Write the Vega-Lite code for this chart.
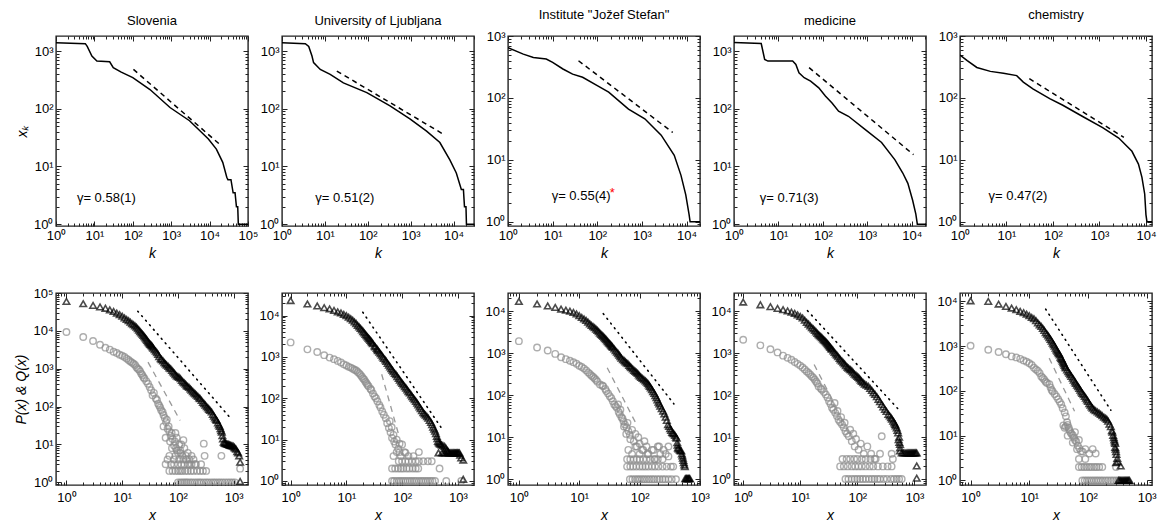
{
"$schema": "https://vega.github.io/schema/vega-lite/v6.json",
"padding": {"left": 14, "top": 8, "right": 2, "bottom": 2},
"background": "white",
"columns": 5,
"spacing": {"row": 67, "column": 34},
"bounds": "flush",
"config": {
  "font": "Liberation Sans",
  "view": {"stroke": "#222", "strokeWidth": 1.4},
  "axis": {"domain": false, "grid": false, "tickColor": "#222", "tickWidth": 1, "labelFont": "Liberation Sans", "labelFontSize": 13, "labelColor": "black", "labelFlush": false, "labelOverlap": false, "titleFont": "Liberation Sans", "titleFontSize": 14, "titleFontStyle": "italic", "titleFontWeight": "normal", "titleColor": "black"},
  "title": {"fontSize": 13, "fontWeight": "normal", "font": "Liberation Sans", "offset": 8, "color": "black"}
},
"concat": [
{"title": "Slovenia", "width": 192, "height": 190, "data": {"name": "A1"}, "resolve": {"axis": {"x": "independent", "y": "independent"}},
 "layer": [
  {"transform": [{"filter": "datum.s=='c'"}], "mark": {"type": "line", "color": "black", "strokeWidth": 1.5, "clip": true},
   "encoding": {"x": {"field": "x", "type": "quantitative", "scale": {"type": "log", "domain": [1, 100000], "nice": false}, "axis": {"orient": "bottom", "values": [1,10,100,1000,10000,100000], "tickCount": 100, "tickSize": -5, "labelPadding": 8, "labelExpr": "'10' + ['⁰','¹','²','³','⁴','⁵'][round(log(datum.value)/LN10)]", "title": "k"}},
                "y": {"field": "y", "type": "quantitative", "scale": {"type": "log", "domain": [0.93, 1820], "nice": false}, "axis": {"orient": "left", "values": [1,10,100,1000,10000,100000], "tickCount": 100, "tickSize": -5, "labelPadding": 8, "labelExpr": "'10' + ['⁰','¹','²','³','⁴','⁵'][round(log(datum.value)/LN10)]", "title": "xₖ"}}}},
  {"transform": [{"filter": "datum.s=='f'"}], "mark": {"type": "line", "color": "black", "strokeWidth": 1.5, "strokeDash": [5, 4]},
   "encoding": {"x": {"field": "x", "type": "quantitative", "scale": {"type": "log", "domain": [1, 100000], "nice": false}, "axis": {"orient": "bottom", "values": [0.2,0.3,0.4,0.5,0.6,0.7,0.8,0.9,2,3,4,5,6,7,8,9,20,30,40,50,60,70,80,90,200,300,400,500,600,700,800,900,2000,3000,4000,5000,6000,7000,8000,9000,20000,30000,40000,50000,60000,70000,80000,90000], "tickCount": 100, "tickSize": -3, "labels": false, "title": null}},
                "y": {"field": "y", "type": "quantitative", "scale": {"type": "log", "domain": [0.93, 1820], "nice": false}, "axis": {"orient": "left", "values": [0.2,0.3,0.4,0.5,0.6,0.7,0.8,0.9,2,3,4,5,6,7,8,9,20,30,40,50,60,70,80,90,200,300,400,500,600,700,800,900,2000,3000,4000,5000,6000,7000,8000,9000,20000,30000,40000,50000,60000,70000,80000,90000], "tickCount": 100, "tickSize": -3, "labels": false, "title": null}}}},
  {"transform": [{"filter": "datum.s=='t'"}], "mark": {"type": "text", "align": "left", "baseline": "middle", "fontSize": 13, "color": "black"},
   "encoding": {"x": {"field": "x", "type": "quantitative", "scale": {"type": "log", "domain": [1, 100000], "nice": false}, "axis": {"orient": "top", "values": [1,10,100,1000,10000,100000], "tickCount": 100, "tickSize": -5, "labels": false, "title": null}},
                "y": {"field": "y", "type": "quantitative", "scale": {"type": "log", "domain": [0.93, 1820], "nice": false}, "axis": {"orient": "right", "values": [1,10,100,1000,10000,100000], "tickCount": 100, "tickSize": -5, "labels": false, "title": null}},
                "text": {"field": "t"}}},
  {"transform": [{"filter": "datum.s=='f'"}], "mark": {"type": "line", "opacity": 0},
   "encoding": {"x": {"field": "x", "type": "quantitative", "scale": {"type": "log", "domain": [1, 100000], "nice": false}, "axis": {"orient": "top", "values": [0.2,0.3,0.4,0.5,0.6,0.7,0.8,0.9,2,3,4,5,6,7,8,9,20,30,40,50,60,70,80,90,200,300,400,500,600,700,800,900,2000,3000,4000,5000,6000,7000,8000,9000,20000,30000,40000,50000,60000,70000,80000,90000], "tickCount": 100, "tickSize": -3, "labels": false, "title": null}},
                "y": {"field": "y", "type": "quantitative", "scale": {"type": "log", "domain": [0.93, 1820], "nice": false}, "axis": {"orient": "right", "values": [0.2,0.3,0.4,0.5,0.6,0.7,0.8,0.9,2,3,4,5,6,7,8,9,20,30,40,50,60,70,80,90,200,300,400,500,600,700,800,900,2000,3000,4000,5000,6000,7000,8000,9000,20000,30000,40000,50000,60000,70000,80000,90000], "tickCount": 100, "tickSize": -3, "labels": false, "title": null}}}}
 ]},
{"title": "University of Ljubljana", "width": 192, "height": 190, "data": {"name": "A2"}, "resolve": {"axis": {"x": "independent", "y": "independent"}},
 "layer": [
  {"transform": [{"filter": "datum.s=='c'"}], "mark": {"type": "line", "color": "black", "strokeWidth": 1.5, "clip": true},
   "encoding": {"x": {"field": "x", "type": "quantitative", "scale": {"type": "log", "domain": [1, 30000], "nice": false}, "axis": {"orient": "bottom", "values": [1,10,100,1000,10000,100000], "tickCount": 100, "tickSize": -5, "labelPadding": 8, "labelExpr": "'10' + ['⁰','¹','²','³','⁴','⁵'][round(log(datum.value)/LN10)]", "title": "k"}},
                "y": {"field": "y", "type": "quantitative", "scale": {"type": "log", "domain": [0.93, 1820], "nice": false}, "axis": {"orient": "left", "values": [1,10,100,1000,10000,100000], "tickCount": 100, "tickSize": -5, "labelPadding": 8, "labelExpr": "'10' + ['⁰','¹','²','³','⁴','⁵'][round(log(datum.value)/LN10)]", "title": null}}}},
  {"transform": [{"filter": "datum.s=='f'"}], "mark": {"type": "line", "color": "black", "strokeWidth": 1.5, "strokeDash": [5, 4]},
   "encoding": {"x": {"field": "x", "type": "quantitative", "scale": {"type": "log", "domain": [1, 30000], "nice": false}, "axis": {"orient": "bottom", "values": [0.2,0.3,0.4,0.5,0.6,0.7,0.8,0.9,2,3,4,5,6,7,8,9,20,30,40,50,60,70,80,90,200,300,400,500,600,700,800,900,2000,3000,4000,5000,6000,7000,8000,9000,20000,30000,40000,50000,60000,70000,80000,90000], "tickCount": 100, "tickSize": -3, "labels": false, "title": null}},
                "y": {"field": "y", "type": "quantitative", "scale": {"type": "log", "domain": [0.93, 1820], "nice": false}, "axis": {"orient": "left", "values": [0.2,0.3,0.4,0.5,0.6,0.7,0.8,0.9,2,3,4,5,6,7,8,9,20,30,40,50,60,70,80,90,200,300,400,500,600,700,800,900,2000,3000,4000,5000,6000,7000,8000,9000,20000,30000,40000,50000,60000,70000,80000,90000], "tickCount": 100, "tickSize": -3, "labels": false, "title": null}}}},
  {"transform": [{"filter": "datum.s=='t'"}], "mark": {"type": "text", "align": "left", "baseline": "middle", "fontSize": 13, "color": "black"},
   "encoding": {"x": {"field": "x", "type": "quantitative", "scale": {"type": "log", "domain": [1, 30000], "nice": false}, "axis": {"orient": "top", "values": [1,10,100,1000,10000,100000], "tickCount": 100, "tickSize": -5, "labels": false, "title": null}},
                "y": {"field": "y", "type": "quantitative", "scale": {"type": "log", "domain": [0.93, 1820], "nice": false}, "axis": {"orient": "right", "values": [1,10,100,1000,10000,100000], "tickCount": 100, "tickSize": -5, "labels": false, "title": null}},
                "text": {"field": "t"}}},
  {"transform": [{"filter": "datum.s=='f'"}], "mark": {"type": "line", "opacity": 0},
   "encoding": {"x": {"field": "x", "type": "quantitative", "scale": {"type": "log", "domain": [1, 30000], "nice": false}, "axis": {"orient": "top", "values": [0.2,0.3,0.4,0.5,0.6,0.7,0.8,0.9,2,3,4,5,6,7,8,9,20,30,40,50,60,70,80,90,200,300,400,500,600,700,800,900,2000,3000,4000,5000,6000,7000,8000,9000,20000,30000,40000,50000,60000,70000,80000,90000], "tickCount": 100, "tickSize": -3, "labels": false, "title": null}},
                "y": {"field": "y", "type": "quantitative", "scale": {"type": "log", "domain": [0.93, 1820], "nice": false}, "axis": {"orient": "right", "values": [0.2,0.3,0.4,0.5,0.6,0.7,0.8,0.9,2,3,4,5,6,7,8,9,20,30,40,50,60,70,80,90,200,300,400,500,600,700,800,900,2000,3000,4000,5000,6000,7000,8000,9000,20000,30000,40000,50000,60000,70000,80000,90000], "tickCount": 100, "tickSize": -3, "labels": false, "title": null}}}}
 ]},
{"title": "Institute \"Jožef Stefan\"", "width": 192, "height": 190, "data": {"name": "A3"}, "resolve": {"axis": {"x": "independent", "y": "independent"}},
 "layer": [
  {"transform": [{"filter": "datum.s=='c'"}], "mark": {"type": "line", "color": "black", "strokeWidth": 1.5, "clip": true},
   "encoding": {"x": {"field": "x", "type": "quantitative", "scale": {"type": "log", "domain": [1, 20000], "nice": false}, "axis": {"orient": "bottom", "values": [1,10,100,1000,10000,100000], "tickCount": 100, "tickSize": -5, "labelPadding": 8, "labelExpr": "'10' + ['⁰','¹','²','³','⁴','⁵'][round(log(datum.value)/LN10)]", "title": "k"}},
                "y": {"field": "y", "type": "quantitative", "scale": {"type": "log", "domain": [0.85, 1000], "nice": false}, "axis": {"orient": "left", "values": [1,10,100,1000,10000,100000], "tickCount": 100, "tickSize": -5, "labelPadding": 8, "labelExpr": "'10' + ['⁰','¹','²','³','⁴','⁵'][round(log(datum.value)/LN10)]", "title": null}}}},
  {"transform": [{"filter": "datum.s=='f'"}], "mark": {"type": "line", "color": "black", "strokeWidth": 1.5, "strokeDash": [5, 4]},
   "encoding": {"x": {"field": "x", "type": "quantitative", "scale": {"type": "log", "domain": [1, 20000], "nice": false}, "axis": {"orient": "bottom", "values": [0.2,0.3,0.4,0.5,0.6,0.7,0.8,0.9,2,3,4,5,6,7,8,9,20,30,40,50,60,70,80,90,200,300,400,500,600,700,800,900,2000,3000,4000,5000,6000,7000,8000,9000,20000,30000,40000,50000,60000,70000,80000,90000], "tickCount": 100, "tickSize": -3, "labels": false, "title": null}},
                "y": {"field": "y", "type": "quantitative", "scale": {"type": "log", "domain": [0.85, 1000], "nice": false}, "axis": {"orient": "left", "values": [0.2,0.3,0.4,0.5,0.6,0.7,0.8,0.9,2,3,4,5,6,7,8,9,20,30,40,50,60,70,80,90,200,300,400,500,600,700,800,900,2000,3000,4000,5000,6000,7000,8000,9000,20000,30000,40000,50000,60000,70000,80000,90000], "tickCount": 100, "tickSize": -3, "labels": false, "title": null}}}},
  {"transform": [{"filter": "datum.s=='t'"}], "mark": {"type": "text", "align": "left", "baseline": "middle", "fontSize": 13, "color": "black"},
   "encoding": {"x": {"field": "x", "type": "quantitative", "scale": {"type": "log", "domain": [1, 20000], "nice": false}, "axis": {"orient": "top", "values": [1,10,100,1000,10000,100000], "tickCount": 100, "tickSize": -5, "labels": false, "title": null}},
                "y": {"field": "y", "type": "quantitative", "scale": {"type": "log", "domain": [0.85, 1000], "nice": false}, "axis": {"orient": "right", "values": [1,10,100,1000,10000,100000], "tickCount": 100, "tickSize": -5, "labels": false, "title": null}},
                "text": {"field": "t"}}},
  {"transform": [{"filter": "datum.s=='f'"}], "mark": {"type": "line", "opacity": 0},
   "encoding": {"x": {"field": "x", "type": "quantitative", "scale": {"type": "log", "domain": [1, 20000], "nice": false}, "axis": {"orient": "top", "values": [0.2,0.3,0.4,0.5,0.6,0.7,0.8,0.9,2,3,4,5,6,7,8,9,20,30,40,50,60,70,80,90,200,300,400,500,600,700,800,900,2000,3000,4000,5000,6000,7000,8000,9000,20000,30000,40000,50000,60000,70000,80000,90000], "tickCount": 100, "tickSize": -3, "labels": false, "title": null}},
                "y": {"field": "y", "type": "quantitative", "scale": {"type": "log", "domain": [0.85, 1000], "nice": false}, "axis": {"orient": "right", "values": [0.2,0.3,0.4,0.5,0.6,0.7,0.8,0.9,2,3,4,5,6,7,8,9,20,30,40,50,60,70,80,90,200,300,400,500,600,700,800,900,2000,3000,4000,5000,6000,7000,8000,9000,20000,30000,40000,50000,60000,70000,80000,90000], "tickCount": 100, "tickSize": -3, "labels": false, "title": null}}}},
  {"transform": [{"filter": "datum.s=='r'"}], "mark": {"type": "text", "align": "left", "baseline": "middle", "fontSize": 13, "color": "red", "dy": -3},
   "encoding": {"x": {"field": "x", "type": "quantitative", "scale": {"type": "log", "domain": [1, 20000], "nice": false}, "axis": null},
                "y": {"field": "y", "type": "quantitative", "scale": {"type": "log", "domain": [0.85, 1000], "nice": false}, "axis": null},
                "text": {"field": "t"}}}
 ]},
{"title": "medicine", "width": 192, "height": 190, "data": {"name": "A4"}, "resolve": {"axis": {"x": "independent", "y": "independent"}},
 "layer": [
  {"transform": [{"filter": "datum.s=='c'"}], "mark": {"type": "line", "color": "black", "strokeWidth": 1.5, "clip": true},
   "encoding": {"x": {"field": "x", "type": "quantitative", "scale": {"type": "log", "domain": [1, 21000], "nice": false}, "axis": {"orient": "bottom", "values": [1,10,100,1000,10000,100000], "tickCount": 100, "tickSize": -5, "labelPadding": 8, "labelExpr": "'10' + ['⁰','¹','²','³','⁴','⁵'][round(log(datum.value)/LN10)]", "title": "k"}},
                "y": {"field": "y", "type": "quantitative", "scale": {"type": "log", "domain": [0.93, 1820], "nice": false}, "axis": {"orient": "left", "values": [1,10,100,1000,10000,100000], "tickCount": 100, "tickSize": -5, "labelPadding": 8, "labelExpr": "'10' + ['⁰','¹','²','³','⁴','⁵'][round(log(datum.value)/LN10)]", "title": null}}}},
  {"transform": [{"filter": "datum.s=='f'"}], "mark": {"type": "line", "color": "black", "strokeWidth": 1.5, "strokeDash": [5, 4]},
   "encoding": {"x": {"field": "x", "type": "quantitative", "scale": {"type": "log", "domain": [1, 21000], "nice": false}, "axis": {"orient": "bottom", "values": [0.2,0.3,0.4,0.5,0.6,0.7,0.8,0.9,2,3,4,5,6,7,8,9,20,30,40,50,60,70,80,90,200,300,400,500,600,700,800,900,2000,3000,4000,5000,6000,7000,8000,9000,20000,30000,40000,50000,60000,70000,80000,90000], "tickCount": 100, "tickSize": -3, "labels": false, "title": null}},
                "y": {"field": "y", "type": "quantitative", "scale": {"type": "log", "domain": [0.93, 1820], "nice": false}, "axis": {"orient": "left", "values": [0.2,0.3,0.4,0.5,0.6,0.7,0.8,0.9,2,3,4,5,6,7,8,9,20,30,40,50,60,70,80,90,200,300,400,500,600,700,800,900,2000,3000,4000,5000,6000,7000,8000,9000,20000,30000,40000,50000,60000,70000,80000,90000], "tickCount": 100, "tickSize": -3, "labels": false, "title": null}}}},
  {"transform": [{"filter": "datum.s=='t'"}], "mark": {"type": "text", "align": "left", "baseline": "middle", "fontSize": 13, "color": "black"},
   "encoding": {"x": {"field": "x", "type": "quantitative", "scale": {"type": "log", "domain": [1, 21000], "nice": false}, "axis": {"orient": "top", "values": [1,10,100,1000,10000,100000], "tickCount": 100, "tickSize": -5, "labels": false, "title": null}},
                "y": {"field": "y", "type": "quantitative", "scale": {"type": "log", "domain": [0.93, 1820], "nice": false}, "axis": {"orient": "right", "values": [1,10,100,1000,10000,100000], "tickCount": 100, "tickSize": -5, "labels": false, "title": null}},
                "text": {"field": "t"}}},
  {"transform": [{"filter": "datum.s=='f'"}], "mark": {"type": "line", "opacity": 0},
   "encoding": {"x": {"field": "x", "type": "quantitative", "scale": {"type": "log", "domain": [1, 21000], "nice": false}, "axis": {"orient": "top", "values": [0.2,0.3,0.4,0.5,0.6,0.7,0.8,0.9,2,3,4,5,6,7,8,9,20,30,40,50,60,70,80,90,200,300,400,500,600,700,800,900,2000,3000,4000,5000,6000,7000,8000,9000,20000,30000,40000,50000,60000,70000,80000,90000], "tickCount": 100, "tickSize": -3, "labels": false, "title": null}},
                "y": {"field": "y", "type": "quantitative", "scale": {"type": "log", "domain": [0.93, 1820], "nice": false}, "axis": {"orient": "right", "values": [0.2,0.3,0.4,0.5,0.6,0.7,0.8,0.9,2,3,4,5,6,7,8,9,20,30,40,50,60,70,80,90,200,300,400,500,600,700,800,900,2000,3000,4000,5000,6000,7000,8000,9000,20000,30000,40000,50000,60000,70000,80000,90000], "tickCount": 100, "tickSize": -3, "labels": false, "title": null}}}}
 ]},
{"title": "chemistry", "width": 192, "height": 190, "data": {"name": "A5"}, "resolve": {"axis": {"x": "independent", "y": "independent"}},
 "layer": [
  {"transform": [{"filter": "datum.s=='c'"}], "mark": {"type": "line", "color": "black", "strokeWidth": 1.5, "clip": true},
   "encoding": {"x": {"field": "x", "type": "quantitative", "scale": {"type": "log", "domain": [1, 13500], "nice": false}, "axis": {"orient": "bottom", "values": [1,10,100,1000,10000,100000], "tickCount": 100, "tickSize": -5, "labelPadding": 8, "labelExpr": "'10' + ['⁰','¹','²','³','⁴','⁵'][round(log(datum.value)/LN10)]", "title": "k"}},
                "y": {"field": "y", "type": "quantitative", "scale": {"type": "log", "domain": [0.85, 1000], "nice": false}, "axis": {"orient": "left", "values": [1,10,100,1000,10000,100000], "tickCount": 100, "tickSize": -5, "labelPadding": 8, "labelExpr": "'10' + ['⁰','¹','²','³','⁴','⁵'][round(log(datum.value)/LN10)]", "title": null}}}},
  {"transform": [{"filter": "datum.s=='f'"}], "mark": {"type": "line", "color": "black", "strokeWidth": 1.5, "strokeDash": [5, 4]},
   "encoding": {"x": {"field": "x", "type": "quantitative", "scale": {"type": "log", "domain": [1, 13500], "nice": false}, "axis": {"orient": "bottom", "values": [0.2,0.3,0.4,0.5,0.6,0.7,0.8,0.9,2,3,4,5,6,7,8,9,20,30,40,50,60,70,80,90,200,300,400,500,600,700,800,900,2000,3000,4000,5000,6000,7000,8000,9000,20000,30000,40000,50000,60000,70000,80000,90000], "tickCount": 100, "tickSize": -3, "labels": false, "title": null}},
                "y": {"field": "y", "type": "quantitative", "scale": {"type": "log", "domain": [0.85, 1000], "nice": false}, "axis": {"orient": "left", "values": [0.2,0.3,0.4,0.5,0.6,0.7,0.8,0.9,2,3,4,5,6,7,8,9,20,30,40,50,60,70,80,90,200,300,400,500,600,700,800,900,2000,3000,4000,5000,6000,7000,8000,9000,20000,30000,40000,50000,60000,70000,80000,90000], "tickCount": 100, "tickSize": -3, "labels": false, "title": null}}}},
  {"transform": [{"filter": "datum.s=='t'"}], "mark": {"type": "text", "align": "left", "baseline": "middle", "fontSize": 13, "color": "black"},
   "encoding": {"x": {"field": "x", "type": "quantitative", "scale": {"type": "log", "domain": [1, 13500], "nice": false}, "axis": {"orient": "top", "values": [1,10,100,1000,10000,100000], "tickCount": 100, "tickSize": -5, "labels": false, "title": null}},
                "y": {"field": "y", "type": "quantitative", "scale": {"type": "log", "domain": [0.85, 1000], "nice": false}, "axis": {"orient": "right", "values": [1,10,100,1000,10000,100000], "tickCount": 100, "tickSize": -5, "labels": false, "title": null}},
                "text": {"field": "t"}}},
  {"transform": [{"filter": "datum.s=='f'"}], "mark": {"type": "line", "opacity": 0},
   "encoding": {"x": {"field": "x", "type": "quantitative", "scale": {"type": "log", "domain": [1, 13500], "nice": false}, "axis": {"orient": "top", "values": [0.2,0.3,0.4,0.5,0.6,0.7,0.8,0.9,2,3,4,5,6,7,8,9,20,30,40,50,60,70,80,90,200,300,400,500,600,700,800,900,2000,3000,4000,5000,6000,7000,8000,9000,20000,30000,40000,50000,60000,70000,80000,90000], "tickCount": 100, "tickSize": -3, "labels": false, "title": null}},
                "y": {"field": "y", "type": "quantitative", "scale": {"type": "log", "domain": [0.85, 1000], "nice": false}, "axis": {"orient": "right", "values": [0.2,0.3,0.4,0.5,0.6,0.7,0.8,0.9,2,3,4,5,6,7,8,9,20,30,40,50,60,70,80,90,200,300,400,500,600,700,800,900,2000,3000,4000,5000,6000,7000,8000,9000,20000,30000,40000,50000,60000,70000,80000,90000], "tickCount": 100, "tickSize": -3, "labels": false, "title": null}}}}
 ]},
{"width": 192, "height": 192, "data": {"name": "B1"}, "resolve": {"axis": {"x": "independent", "y": "independent"}},
 "layer": [
  {"transform": [{"filter": "datum.s=='p'"}], "mark": {"type": "point", "shape": "circle", "filled": false, "color": "#8c8c8c", "size": 42, "strokeWidth": 1.4, "clip": true},
   "encoding": {"x": {"field": "x", "type": "quantitative", "scale": {"type": "log", "domain": [0.65, 1800], "nice": false}, "axis": {"orient": "bottom", "values": [1,10,100,1000,10000,100000], "tickCount": 100, "tickSize": -5, "labelPadding": 11, "labelExpr": "'10' + ['⁰','¹','²','³','⁴','⁵'][round(log(datum.value)/LN10)]", "title": "x"}},
                "y": {"field": "y", "type": "quantitative", "scale": {"type": "log", "domain": [0.85, 100000], "nice": false}, "axis": {"orient": "left", "values": [1,10,100,1000,10000,100000], "tickCount": 100, "tickSize": -5, "labelPadding": 8, "labelExpr": "'10' + ['⁰','¹','²','³','⁴','⁵'][round(log(datum.value)/LN10)]", "title": "P(x) & Q(x)"}}}},
  {"transform": [{"filter": "datum.s=='q'"}], "mark": {"type": "point", "shape": "triangle-up", "filled": false, "color": "black", "size": 42, "strokeWidth": 1.6, "clip": true},
   "encoding": {"x": {"field": "x", "type": "quantitative", "scale": {"type": "log", "domain": [0.65, 1800], "nice": false}, "axis": {"orient": "bottom", "values": [0.2,0.3,0.4,0.5,0.6,0.7,0.8,0.9,2,3,4,5,6,7,8,9,20,30,40,50,60,70,80,90,200,300,400,500,600,700,800,900,2000,3000,4000,5000,6000,7000,8000,9000,20000,30000,40000,50000,60000,70000,80000,90000], "tickCount": 100, "tickSize": -3, "labels": false, "title": null}},
                "y": {"field": "y", "type": "quantitative", "scale": {"type": "log", "domain": [0.85, 100000], "nice": false}, "axis": {"orient": "left", "values": [0.2,0.3,0.4,0.5,0.6,0.7,0.8,0.9,2,3,4,5,6,7,8,9,20,30,40,50,60,70,80,90,200,300,400,500,600,700,800,900,2000,3000,4000,5000,6000,7000,8000,9000,20000,30000,40000,50000,60000,70000,80000,90000], "tickCount": 100, "tickSize": -3, "labels": false, "title": null}}}},
  {"transform": [{"filter": "datum.s=='d'"}], "mark": {"type": "line", "color": "#999999", "strokeWidth": 1.3, "strokeDash": [6, 5]},
   "encoding": {"x": {"field": "x", "type": "quantitative", "scale": {"type": "log", "domain": [0.65, 1800], "nice": false}, "axis": {"orient": "top", "values": [1,10,100,1000,10000,100000], "tickCount": 100, "tickSize": -5, "labels": false, "title": null}},
                "y": {"field": "y", "type": "quantitative", "scale": {"type": "log", "domain": [0.85, 100000], "nice": false}, "axis": {"orient": "right", "values": [1,10,100,1000,10000,100000], "tickCount": 100, "tickSize": -5, "labels": false, "title": null}}}},
  {"transform": [{"filter": "datum.s=='o'"}], "mark": {"type": "line", "color": "black", "strokeWidth": 1.6, "strokeDash": [1, 5], "strokeCap": "round"},
   "encoding": {"x": {"field": "x", "type": "quantitative", "scale": {"type": "log", "domain": [0.65, 1800], "nice": false}, "axis": {"orient": "top", "values": [0.2,0.3,0.4,0.5,0.6,0.7,0.8,0.9,2,3,4,5,6,7,8,9,20,30,40,50,60,70,80,90,200,300,400,500,600,700,800,900,2000,3000,4000,5000,6000,7000,8000,9000,20000,30000,40000,50000,60000,70000,80000,90000], "tickCount": 100, "tickSize": -3, "labels": false, "title": null}},
                "y": {"field": "y", "type": "quantitative", "scale": {"type": "log", "domain": [0.85, 100000], "nice": false}, "axis": {"orient": "right", "values": [0.2,0.3,0.4,0.5,0.6,0.7,0.8,0.9,2,3,4,5,6,7,8,9,20,30,40,50,60,70,80,90,200,300,400,500,600,700,800,900,2000,3000,4000,5000,6000,7000,8000,9000,20000,30000,40000,50000,60000,70000,80000,90000], "tickCount": 100, "tickSize": -3, "labels": false, "title": null}}}}
 ]},
{"width": 192, "height": 192, "data": {"name": "B2"}, "resolve": {"axis": {"x": "independent", "y": "independent"}},
 "layer": [
  {"transform": [{"filter": "datum.s=='p'"}], "mark": {"type": "point", "shape": "circle", "filled": false, "color": "#8c8c8c", "size": 42, "strokeWidth": 1.4, "clip": true},
   "encoding": {"x": {"field": "x", "type": "quantitative", "scale": {"type": "log", "domain": [0.7, 1950], "nice": false}, "axis": {"orient": "bottom", "values": [1,10,100,1000,10000,100000], "tickCount": 100, "tickSize": -5, "labelPadding": 11, "labelExpr": "'10' + ['⁰','¹','²','³','⁴','⁵'][round(log(datum.value)/LN10)]", "title": "x"}},
                "y": {"field": "y", "type": "quantitative", "scale": {"type": "log", "domain": [0.8, 35000], "nice": false}, "axis": {"orient": "left", "values": [1,10,100,1000,10000,100000], "tickCount": 100, "tickSize": -5, "labelPadding": 8, "labelExpr": "'10' + ['⁰','¹','²','³','⁴','⁵'][round(log(datum.value)/LN10)]", "title": null}}}},
  {"transform": [{"filter": "datum.s=='q'"}], "mark": {"type": "point", "shape": "triangle-up", "filled": false, "color": "black", "size": 42, "strokeWidth": 1.6, "clip": true},
   "encoding": {"x": {"field": "x", "type": "quantitative", "scale": {"type": "log", "domain": [0.7, 1950], "nice": false}, "axis": {"orient": "bottom", "values": [0.2,0.3,0.4,0.5,0.6,0.7,0.8,0.9,2,3,4,5,6,7,8,9,20,30,40,50,60,70,80,90,200,300,400,500,600,700,800,900,2000,3000,4000,5000,6000,7000,8000,9000,20000,30000,40000,50000,60000,70000,80000,90000], "tickCount": 100, "tickSize": -3, "labels": false, "title": null}},
                "y": {"field": "y", "type": "quantitative", "scale": {"type": "log", "domain": [0.8, 35000], "nice": false}, "axis": {"orient": "left", "values": [0.2,0.3,0.4,0.5,0.6,0.7,0.8,0.9,2,3,4,5,6,7,8,9,20,30,40,50,60,70,80,90,200,300,400,500,600,700,800,900,2000,3000,4000,5000,6000,7000,8000,9000,20000,30000,40000,50000,60000,70000,80000,90000], "tickCount": 100, "tickSize": -3, "labels": false, "title": null}}}},
  {"transform": [{"filter": "datum.s=='d'"}], "mark": {"type": "line", "color": "#999999", "strokeWidth": 1.3, "strokeDash": [6, 5]},
   "encoding": {"x": {"field": "x", "type": "quantitative", "scale": {"type": "log", "domain": [0.7, 1950], "nice": false}, "axis": {"orient": "top", "values": [1,10,100,1000,10000,100000], "tickCount": 100, "tickSize": -5, "labels": false, "title": null}},
                "y": {"field": "y", "type": "quantitative", "scale": {"type": "log", "domain": [0.8, 35000], "nice": false}, "axis": {"orient": "right", "values": [1,10,100,1000,10000,100000], "tickCount": 100, "tickSize": -5, "labels": false, "title": null}}}},
  {"transform": [{"filter": "datum.s=='o'"}], "mark": {"type": "line", "color": "black", "strokeWidth": 1.6, "strokeDash": [1, 5], "strokeCap": "round"},
   "encoding": {"x": {"field": "x", "type": "quantitative", "scale": {"type": "log", "domain": [0.7, 1950], "nice": false}, "axis": {"orient": "top", "values": [0.2,0.3,0.4,0.5,0.6,0.7,0.8,0.9,2,3,4,5,6,7,8,9,20,30,40,50,60,70,80,90,200,300,400,500,600,700,800,900,2000,3000,4000,5000,6000,7000,8000,9000,20000,30000,40000,50000,60000,70000,80000,90000], "tickCount": 100, "tickSize": -3, "labels": false, "title": null}},
                "y": {"field": "y", "type": "quantitative", "scale": {"type": "log", "domain": [0.8, 35000], "nice": false}, "axis": {"orient": "right", "values": [0.2,0.3,0.4,0.5,0.6,0.7,0.8,0.9,2,3,4,5,6,7,8,9,20,30,40,50,60,70,80,90,200,300,400,500,600,700,800,900,2000,3000,4000,5000,6000,7000,8000,9000,20000,30000,40000,50000,60000,70000,80000,90000], "tickCount": 100, "tickSize": -3, "labels": false, "title": null}}}}
 ]},
{"width": 192, "height": 192, "data": {"name": "B3"}, "resolve": {"axis": {"x": "independent", "y": "independent"}},
 "layer": [
  {"transform": [{"filter": "datum.s=='p'"}], "mark": {"type": "point", "shape": "circle", "filled": false, "color": "#8c8c8c", "size": 42, "strokeWidth": 1.4, "clip": true},
   "encoding": {"x": {"field": "x", "type": "quantitative", "scale": {"type": "log", "domain": [0.66, 1000], "nice": false}, "axis": {"orient": "bottom", "values": [1,10,100,1000,10000,100000], "tickCount": 100, "tickSize": -5, "labelPadding": 11, "labelExpr": "'10' + ['⁰','¹','²','³','⁴','⁵'][round(log(datum.value)/LN10)]", "title": "x"}},
                "y": {"field": "y", "type": "quantitative", "scale": {"type": "log", "domain": [0.73, 27000], "nice": false}, "axis": {"orient": "left", "values": [1,10,100,1000,10000,100000], "tickCount": 100, "tickSize": -5, "labelPadding": 8, "labelExpr": "'10' + ['⁰','¹','²','³','⁴','⁵'][round(log(datum.value)/LN10)]", "title": null}}}},
  {"transform": [{"filter": "datum.s=='q'"}], "mark": {"type": "point", "shape": "triangle-up", "filled": false, "color": "black", "size": 42, "strokeWidth": 1.6, "clip": true},
   "encoding": {"x": {"field": "x", "type": "quantitative", "scale": {"type": "log", "domain": [0.66, 1000], "nice": false}, "axis": {"orient": "bottom", "values": [0.2,0.3,0.4,0.5,0.6,0.7,0.8,0.9,2,3,4,5,6,7,8,9,20,30,40,50,60,70,80,90,200,300,400,500,600,700,800,900,2000,3000,4000,5000,6000,7000,8000,9000,20000,30000,40000,50000,60000,70000,80000,90000], "tickCount": 100, "tickSize": -3, "labels": false, "title": null}},
                "y": {"field": "y", "type": "quantitative", "scale": {"type": "log", "domain": [0.73, 27000], "nice": false}, "axis": {"orient": "left", "values": [0.2,0.3,0.4,0.5,0.6,0.7,0.8,0.9,2,3,4,5,6,7,8,9,20,30,40,50,60,70,80,90,200,300,400,500,600,700,800,900,2000,3000,4000,5000,6000,7000,8000,9000,20000,30000,40000,50000,60000,70000,80000,90000], "tickCount": 100, "tickSize": -3, "labels": false, "title": null}}}},
  {"transform": [{"filter": "datum.s=='d'"}], "mark": {"type": "line", "color": "#999999", "strokeWidth": 1.3, "strokeDash": [6, 5]},
   "encoding": {"x": {"field": "x", "type": "quantitative", "scale": {"type": "log", "domain": [0.66, 1000], "nice": false}, "axis": {"orient": "top", "values": [1,10,100,1000,10000,100000], "tickCount": 100, "tickSize": -5, "labels": false, "title": null}},
                "y": {"field": "y", "type": "quantitative", "scale": {"type": "log", "domain": [0.73, 27000], "nice": false}, "axis": {"orient": "right", "values": [1,10,100,1000,10000,100000], "tickCount": 100, "tickSize": -5, "labels": false, "title": null}}}},
  {"transform": [{"filter": "datum.s=='o'"}], "mark": {"type": "line", "color": "black", "strokeWidth": 1.6, "strokeDash": [1, 5], "strokeCap": "round"},
   "encoding": {"x": {"field": "x", "type": "quantitative", "scale": {"type": "log", "domain": [0.66, 1000], "nice": false}, "axis": {"orient": "top", "values": [0.2,0.3,0.4,0.5,0.6,0.7,0.8,0.9,2,3,4,5,6,7,8,9,20,30,40,50,60,70,80,90,200,300,400,500,600,700,800,900,2000,3000,4000,5000,6000,7000,8000,9000,20000,30000,40000,50000,60000,70000,80000,90000], "tickCount": 100, "tickSize": -3, "labels": false, "title": null}},
                "y": {"field": "y", "type": "quantitative", "scale": {"type": "log", "domain": [0.73, 27000], "nice": false}, "axis": {"orient": "right", "values": [0.2,0.3,0.4,0.5,0.6,0.7,0.8,0.9,2,3,4,5,6,7,8,9,20,30,40,50,60,70,80,90,200,300,400,500,600,700,800,900,2000,3000,4000,5000,6000,7000,8000,9000,20000,30000,40000,50000,60000,70000,80000,90000], "tickCount": 100, "tickSize": -3, "labels": false, "title": null}}}}
 ]},
{"width": 192, "height": 192, "data": {"name": "B4"}, "resolve": {"axis": {"x": "independent", "y": "independent"}},
 "layer": [
  {"transform": [{"filter": "datum.s=='p'"}], "mark": {"type": "point", "shape": "circle", "filled": false, "color": "#8c8c8c", "size": 42, "strokeWidth": 1.4, "clip": true},
   "encoding": {"x": {"field": "x", "type": "quantitative", "scale": {"type": "log", "domain": [0.69, 1600], "nice": false}, "axis": {"orient": "bottom", "values": [1,10,100,1000,10000,100000], "tickCount": 100, "tickSize": -5, "labelPadding": 11, "labelExpr": "'10' + ['⁰','¹','²','³','⁴','⁵'][round(log(datum.value)/LN10)]", "title": "x"}},
                "y": {"field": "y", "type": "quantitative", "scale": {"type": "log", "domain": [0.72, 27500], "nice": false}, "axis": {"orient": "left", "values": [1,10,100,1000,10000,100000], "tickCount": 100, "tickSize": -5, "labelPadding": 8, "labelExpr": "'10' + ['⁰','¹','²','³','⁴','⁵'][round(log(datum.value)/LN10)]", "title": null}}}},
  {"transform": [{"filter": "datum.s=='q'"}], "mark": {"type": "point", "shape": "triangle-up", "filled": false, "color": "black", "size": 42, "strokeWidth": 1.6, "clip": true},
   "encoding": {"x": {"field": "x", "type": "quantitative", "scale": {"type": "log", "domain": [0.69, 1600], "nice": false}, "axis": {"orient": "bottom", "values": [0.2,0.3,0.4,0.5,0.6,0.7,0.8,0.9,2,3,4,5,6,7,8,9,20,30,40,50,60,70,80,90,200,300,400,500,600,700,800,900,2000,3000,4000,5000,6000,7000,8000,9000,20000,30000,40000,50000,60000,70000,80000,90000], "tickCount": 100, "tickSize": -3, "labels": false, "title": null}},
                "y": {"field": "y", "type": "quantitative", "scale": {"type": "log", "domain": [0.72, 27500], "nice": false}, "axis": {"orient": "left", "values": [0.2,0.3,0.4,0.5,0.6,0.7,0.8,0.9,2,3,4,5,6,7,8,9,20,30,40,50,60,70,80,90,200,300,400,500,600,700,800,900,2000,3000,4000,5000,6000,7000,8000,9000,20000,30000,40000,50000,60000,70000,80000,90000], "tickCount": 100, "tickSize": -3, "labels": false, "title": null}}}},
  {"transform": [{"filter": "datum.s=='d'"}], "mark": {"type": "line", "color": "#999999", "strokeWidth": 1.3, "strokeDash": [6, 5]},
   "encoding": {"x": {"field": "x", "type": "quantitative", "scale": {"type": "log", "domain": [0.69, 1600], "nice": false}, "axis": {"orient": "top", "values": [1,10,100,1000,10000,100000], "tickCount": 100, "tickSize": -5, "labels": false, "title": null}},
                "y": {"field": "y", "type": "quantitative", "scale": {"type": "log", "domain": [0.72, 27500], "nice": false}, "axis": {"orient": "right", "values": [1,10,100,1000,10000,100000], "tickCount": 100, "tickSize": -5, "labels": false, "title": null}}}},
  {"transform": [{"filter": "datum.s=='o'"}], "mark": {"type": "line", "color": "black", "strokeWidth": 1.6, "strokeDash": [1, 5], "strokeCap": "round"},
   "encoding": {"x": {"field": "x", "type": "quantitative", "scale": {"type": "log", "domain": [0.69, 1600], "nice": false}, "axis": {"orient": "top", "values": [0.2,0.3,0.4,0.5,0.6,0.7,0.8,0.9,2,3,4,5,6,7,8,9,20,30,40,50,60,70,80,90,200,300,400,500,600,700,800,900,2000,3000,4000,5000,6000,7000,8000,9000,20000,30000,40000,50000,60000,70000,80000,90000], "tickCount": 100, "tickSize": -3, "labels": false, "title": null}},
                "y": {"field": "y", "type": "quantitative", "scale": {"type": "log", "domain": [0.72, 27500], "nice": false}, "axis": {"orient": "right", "values": [0.2,0.3,0.4,0.5,0.6,0.7,0.8,0.9,2,3,4,5,6,7,8,9,20,30,40,50,60,70,80,90,200,300,400,500,600,700,800,900,2000,3000,4000,5000,6000,7000,8000,9000,20000,30000,40000,50000,60000,70000,80000,90000], "tickCount": 100, "tickSize": -3, "labels": false, "title": null}}}}
 ]},
{"width": 192, "height": 192, "data": {"name": "B5"}, "resolve": {"axis": {"x": "independent", "y": "independent"}},
 "layer": [
  {"transform": [{"filter": "datum.s=='p'"}], "mark": {"type": "point", "shape": "circle", "filled": false, "color": "#8c8c8c", "size": 42, "strokeWidth": 1.4, "clip": true},
   "encoding": {"x": {"field": "x", "type": "quantitative", "scale": {"type": "log", "domain": [0.66, 1230], "nice": false}, "axis": {"orient": "bottom", "values": [1,10,100,1000,10000,100000], "tickCount": 100, "tickSize": -5, "labelPadding": 11, "labelExpr": "'10' + ['⁰','¹','²','³','⁴','⁵'][round(log(datum.value)/LN10)]", "title": "x"}},
                "y": {"field": "y", "type": "quantitative", "scale": {"type": "log", "domain": [0.79, 15400], "nice": false}, "axis": {"orient": "left", "values": [1,10,100,1000,10000,100000], "tickCount": 100, "tickSize": -5, "labelPadding": 8, "labelExpr": "'10' + ['⁰','¹','²','³','⁴','⁵'][round(log(datum.value)/LN10)]", "title": null}}}},
  {"transform": [{"filter": "datum.s=='q'"}], "mark": {"type": "point", "shape": "triangle-up", "filled": false, "color": "black", "size": 42, "strokeWidth": 1.6, "clip": true},
   "encoding": {"x": {"field": "x", "type": "quantitative", "scale": {"type": "log", "domain": [0.66, 1230], "nice": false}, "axis": {"orient": "bottom", "values": [0.2,0.3,0.4,0.5,0.6,0.7,0.8,0.9,2,3,4,5,6,7,8,9,20,30,40,50,60,70,80,90,200,300,400,500,600,700,800,900,2000,3000,4000,5000,6000,7000,8000,9000,20000,30000,40000,50000,60000,70000,80000,90000], "tickCount": 100, "tickSize": -3, "labels": false, "title": null}},
                "y": {"field": "y", "type": "quantitative", "scale": {"type": "log", "domain": [0.79, 15400], "nice": false}, "axis": {"orient": "left", "values": [0.2,0.3,0.4,0.5,0.6,0.7,0.8,0.9,2,3,4,5,6,7,8,9,20,30,40,50,60,70,80,90,200,300,400,500,600,700,800,900,2000,3000,4000,5000,6000,7000,8000,9000,20000,30000,40000,50000,60000,70000,80000,90000], "tickCount": 100, "tickSize": -3, "labels": false, "title": null}}}},
  {"transform": [{"filter": "datum.s=='d'"}], "mark": {"type": "line", "color": "#999999", "strokeWidth": 1.3, "strokeDash": [6, 5]},
   "encoding": {"x": {"field": "x", "type": "quantitative", "scale": {"type": "log", "domain": [0.66, 1230], "nice": false}, "axis": {"orient": "top", "values": [1,10,100,1000,10000,100000], "tickCount": 100, "tickSize": -5, "labels": false, "title": null}},
                "y": {"field": "y", "type": "quantitative", "scale": {"type": "log", "domain": [0.79, 15400], "nice": false}, "axis": {"orient": "right", "values": [1,10,100,1000,10000,100000], "tickCount": 100, "tickSize": -5, "labels": false, "title": null}}}},
  {"transform": [{"filter": "datum.s=='o'"}], "mark": {"type": "line", "color": "black", "strokeWidth": 1.6, "strokeDash": [1, 5], "strokeCap": "round"},
   "encoding": {"x": {"field": "x", "type": "quantitative", "scale": {"type": "log", "domain": [0.66, 1230], "nice": false}, "axis": {"orient": "top", "values": [0.2,0.3,0.4,0.5,0.6,0.7,0.8,0.9,2,3,4,5,6,7,8,9,20,30,40,50,60,70,80,90,200,300,400,500,600,700,800,900,2000,3000,4000,5000,6000,7000,8000,9000,20000,30000,40000,50000,60000,70000,80000,90000], "tickCount": 100, "tickSize": -3, "labels": false, "title": null}},
                "y": {"field": "y", "type": "quantitative", "scale": {"type": "log", "domain": [0.79, 15400], "nice": false}, "axis": {"orient": "right", "values": [0.2,0.3,0.4,0.5,0.6,0.7,0.8,0.9,2,3,4,5,6,7,8,9,20,30,40,50,60,70,80,90,200,300,400,500,600,700,800,900,2000,3000,4000,5000,6000,7000,8000,9000,20000,30000,40000,50000,60000,70000,80000,90000], "tickCount": 100, "tickSize": -3, "labels": false, "title": null}}}}
 ]}
],
"datasets": {
"A1": [
{"s":"c","x":1,"y":1390},{"s":"c","x":5.8,"y":1340},{"s":"c","x":6.5,"y":1200},{"s":"c","x":8.6,"y":820},{"s":"c","x":11.6,"y":670},{"s":"c","x":25,"y":650},{"s":"c","x":31,"y":515},{"s":"c","x":50,"y":430},{"s":"c","x":100,"y":345},{"s":"c","x":280,"y":215},{"s":"c","x":930,"y":105},{"s":"c","x":3000,"y":62},{"s":"c","x":9300,"y":30},{"s":"c","x":15000,"y":20},{"s":"c","x":22000,"y":11.8},{"s":"c","x":28000,"y":6.5},{"s":"c","x":30000,"y":5.9},{"s":"c","x":36000,"y":5.9},{"s":"c","x":41000,"y":3.5},{"s":"c","x":46000,"y":3.5},{"s":"c","x":50000,"y":2},{"s":"c","x":54000,"y":2},{"s":"c","x":56000,"y":1},{"s":"c","x":100000,"y":1},
{"s":"f","x":104,"y":480},{"s":"f","x":20000,"y":23},
{"s":"t","x":3.5,"y":2.8,"t":"γ= 0.58(1)"}
],
"A2": [
{"s":"c","x":1,"y":1390},{"s":"c","x":3.5,"y":1340},{"s":"c","x":4.2,"y":1200},{"s":"c","x":5,"y":820},{"s":"c","x":5.45,"y":630},{"s":"c","x":7.8,"y":480},{"s":"c","x":13.3,"y":395},{"s":"c","x":27,"y":280},{"s":"c","x":95,"y":190},{"s":"c","x":330,"y":112},{"s":"c","x":960,"y":67},{"s":"c","x":2350,"y":41},{"s":"c","x":4800,"y":26},{"s":"c","x":8200,"y":13},{"s":"c","x":11600,"y":7.7},{"s":"c","x":15200,"y":4},{"s":"c","x":17000,"y":4},{"s":"c","x":18000,"y":2},{"s":"c","x":19500,"y":2},{"s":"c","x":20000,"y":1},{"s":"c","x":30000,"y":1},
{"s":"f","x":19,"y":450},{"s":"f","x":5500,"y":37},
{"s":"t","x":6,"y":2.8,"t":"γ= 0.51(2)"}
],
"A3": [
{"s":"c","x":1,"y":650},{"s":"c","x":2.2,"y":510},{"s":"c","x":3.7,"y":450},{"s":"c","x":7.2,"y":425},{"s":"c","x":10,"y":375},{"s":"c","x":17,"y":293},{"s":"c","x":28,"y":242},{"s":"c","x":47,"y":215},{"s":"c","x":100,"y":158},{"s":"c","x":180,"y":124},{"s":"c","x":500,"y":66},{"s":"c","x":1160,"y":46},{"s":"c","x":2700,"y":25},{"s":"c","x":5300,"y":11.8},{"s":"c","x":7500,"y":5.6},{"s":"c","x":9600,"y":2.7},{"s":"c","x":11400,"y":1.3},{"s":"c","x":12000,"y":1},{"s":"c","x":20000,"y":1},
{"s":"f","x":38,"y":398},{"s":"f","x":4900,"y":27.6},
{"s":"t","x":9.5,"y":2.6,"t":"γ= 0.55(4)"},
{"s":"r","x":190,"y":2.6,"t":"*"}
],
"A4": [
{"s":"c","x":1,"y":1400},{"s":"c","x":4.1,"y":1350},{"s":"c","x":4.9,"y":715},{"s":"c","x":5.8,"y":670},{"s":"c","x":20.9,"y":670},{"s":"c","x":24.7,"y":585},{"s":"c","x":29,"y":420},{"s":"c","x":38,"y":345},{"s":"c","x":53,"y":300},{"s":"c","x":81,"y":230},{"s":"c","x":114,"y":166},{"s":"c","x":161,"y":126},{"s":"c","x":226,"y":91},{"s":"c","x":377,"y":74},{"s":"c","x":889,"y":44},{"s":"c","x":2100,"y":26},{"s":"c","x":4200,"y":13},{"s":"c","x":6300,"y":7.7},{"s":"c","x":8200,"y":5.1},{"s":"c","x":10500,"y":2.6},{"s":"c","x":12400,"y":1.5},{"s":"c","x":13400,"y":1},{"s":"c","x":21000,"y":1},
{"s":"f","x":49,"y":515},{"s":"f","x":11000,"y":16},
{"s":"t","x":3.8,"y":2.8,"t":"γ= 0.71(3)"}
],
"A5": [
{"s":"c","x":1,"y":490},{"s":"c","x":1.43,"y":400},{"s":"c","x":2.3,"y":310},{"s":"c","x":4.5,"y":268},{"s":"c","x":8.6,"y":250},{"s":"c","x":16.6,"y":229},{"s":"c","x":23,"y":180},{"s":"c","x":37,"y":140},{"s":"c","x":85,"y":97},{"s":"c","x":163,"y":76},{"s":"c","x":435,"y":50},{"s":"c","x":1170,"y":33},{"s":"c","x":2600,"y":22.4},{"s":"c","x":5000,"y":13.7},{"s":"c","x":6900,"y":8.5},{"s":"c","x":8200,"y":5.2},{"s":"c","x":9400,"y":2.8},{"s":"c","x":10000,"y":1.3},{"s":"c","x":10500,"y":1},{"s":"c","x":13500,"y":1},
{"s":"f","x":31,"y":204},{"s":"f","x":3350,"y":23},
{"s":"t","x":4.1,"y":2.6,"t":"γ= 0.47(2)"}
],
"B1": [
{"s":"q","x":1,"y":60000},{"s":"q","x":2,"y":52000},{"s":"q","x":3,"y":47000},{"s":"q","x":4,"y":43000},{"s":"q","x":5,"y":39500},{"s":"q","x":6,"y":36000},{"s":"q","x":7,"y":32500},{"s":"q","x":8,"y":29500},{"s":"q","x":9,"y":27000},{"s":"q","x":10,"y":24500},{"s":"q","x":11,"y":22000},{"s":"q","x":12,"y":20000},{"s":"q","x":13,"y":18500},{"s":"q","x":14,"y":17000},{"s":"q","x":15,"y":15500},{"s":"q","x":16,"y":14500},{"s":"q","x":18,"y":12500},{"s":"q","x":20,"y":10500},{"s":"q","x":22,"y":8800},{"s":"q","x":24,"y":7600},{"s":"q","x":26,"y":6500},{"s":"q","x":28,"y":5600},{"s":"q","x":30,"y":4900},{"s":"q","x":33,"y":4200},{"s":"q","x":36,"y":3500},{"s":"q","x":40,"y":2900},{"s":"q","x":44,"y":2400},{"s":"q","x":49,"y":1850},{"s":"q","x":54,"y":1600},{"s":"q","x":60,"y":1350},{"s":"q","x":67,"y":1150},{"s":"q","x":74,"y":1000},{"s":"q","x":82,"y":820},{"s":"q","x":90,"y":700},{"s":"q","x":100,"y":620},{"s":"q","x":111,"y":550},{"s":"q","x":123,"y":450},{"s":"q","x":137,"y":390},{"s":"q","x":150,"y":340},{"s":"q","x":167,"y":295},{"s":"q","x":185,"y":250},{"s":"q","x":205,"y":215},{"s":"q","x":228,"y":185},{"s":"q","x":250,"y":162},{"s":"q","x":280,"y":130},{"s":"q","x":310,"y":110},{"s":"q","x":345,"y":92},{"s":"q","x":377,"y":79},{"s":"q","x":420,"y":62},{"s":"q","x":460,"y":50},{"s":"q","x":495,"y":43},{"s":"q","x":540,"y":33},{"s":"q","x":580,"y":26},{"s":"q","x":610,"y":21},{"s":"q","x":640,"y":14},{"s":"q","x":660,"y":11.5},{"s":"q","x":700,"y":10.8},{"s":"q","x":750,"y":10.3},{"s":"q","x":800,"y":10},{"s":"q","x":850,"y":9.6},{"s":"q","x":900,"y":9.3},{"s":"q","x":980,"y":9},{"s":"q","x":1050,"y":8},{"s":"q","x":1100,"y":7.5},{"s":"q","x":1150,"y":6.5},{"s":"q","x":1200,"y":6},{"s":"q","x":1250,"y":5},{"s":"q","x":1300,"y":3.4},{"s":"q","x":1300,"y":1.05},
{"s":"q","x":17,"y":13500},{"s":"q","x":19,"y":11500},{"s":"q","x":21,"y":9600},{"s":"q","x":23,"y":8200},{"s":"q","x":25,"y":7000},{"s":"q","x":27,"y":6000},{"s":"q","x":29,"y":5200},{"s":"q","x":31,"y":4600},{"s":"q","x":32,"y":4400},{"s":"q","x":34,"y":4000},{"s":"q","x":35,"y":3750},{"s":"q","x":38,"y":3200},{"s":"q","x":42,"y":2650},{"s":"q","x":46,"y":2100},{"s":"q","x":51,"y":1750},{"s":"q","x":57,"y":1450},{"s":"q","x":63,"y":1250},{"s":"q","x":70,"y":1050},{"s":"q","x":78,"y":900},{"s":"q","x":86,"y":760},{"s":"q","x":95,"y":650},{"s":"q","x":105,"y":590},{"s":"q","x":117,"y":490},{"s":"q","x":130,"y":420},{"s":"q","x":143,"y":360},{"s":"q","x":158,"y":320},{"s":"q","x":175,"y":270},{"s":"q","x":195,"y":230},{"s":"q","x":216,"y":200},{"s":"q","x":240,"y":170},{"s":"q","x":265,"y":145},{"s":"q","x":295,"y":120},{"s":"q","x":328,"y":100},{"s":"q","x":360,"y":85},{"s":"q","x":400,"y":72},{"s":"q","x":440,"y":56},{"s":"q","x":480,"y":46},{"s":"q","x":520,"y":37},{"s":"q","x":560,"y":30},{"s":"q","x":595,"y":23},{"s":"q","x":625,"y":17},{"s":"q","x":680,"y":11},{"s":"q","x":720,"y":10.5},{"s":"q","x":780,"y":10.1},{"s":"q","x":830,"y":9.8},{"s":"q","x":880,"y":9.5},{"s":"q","x":940,"y":9.2},{"s":"q","x":1020,"y":8.5},
{"s":"p","x":1,"y":9300},{"s":"p","x":2,"y":6900},{"s":"p","x":3,"y":5400},{"s":"p","x":4,"y":4300},{"s":"p","x":5,"y":3600},{"s":"p","x":6,"y":3200},{"s":"p","x":7,"y":2800},{"s":"p","x":8,"y":2600},{"s":"p","x":9,"y":2350},{"s":"p","x":10,"y":2200},{"s":"p","x":11,"y":2050},{"s":"p","x":12,"y":1850},{"s":"p","x":13,"y":1700},{"s":"p","x":14,"y":1550},{"s":"p","x":15,"y":1450},{"s":"p","x":16,"y":1350},{"s":"p","x":17,"y":1250},{"s":"p","x":18,"y":1100},{"s":"p","x":19,"y":1000},{"s":"p","x":20,"y":950},{"s":"p","x":21,"y":850},{"s":"p","x":22,"y":740},{"s":"p","x":23,"y":680},{"s":"p","x":24,"y":600},{"s":"p","x":25,"y":550},{"s":"p","x":27,"y":470},{"s":"p","x":29,"y":400},{"s":"p","x":31,"y":330},{"s":"p","x":33,"y":270},{"s":"p","x":35,"y":200},{"s":"p","x":37,"y":230},{"s":"p","x":40,"y":163},{"s":"p","x":42,"y":150},{"s":"p","x":44,"y":120},{"s":"p","x":46,"y":107},{"s":"p","x":48,"y":95},{"s":"p","x":50,"y":80},{"s":"p","x":53,"y":72},{"s":"p","x":55,"y":60},{"s":"p","x":58,"y":50},{"s":"p","x":61,"y":39},{"s":"p","x":63,"y":45},{"s":"p","x":65,"y":26},{"s":"p","x":68,"y":30},{"s":"p","x":70,"y":22},{"s":"p","x":74,"y":17},{"s":"p","x":77,"y":20},{"s":"p","x":80,"y":14},{"s":"p","x":85,"y":9.4},{"s":"p","x":88,"y":12},{"s":"p","x":92,"y":8},{"s":"p","x":95,"y":15},{"s":"p","x":100,"y":6},{"s":"p","x":105,"y":10},{"s":"p","x":110,"y":7},{"s":"p","x":120,"y":5},{"s":"p","x":130,"y":8},{"s":"p","x":140,"y":4},{"s":"p","x":150,"y":6},{"s":"p","x":160,"y":3},{"s":"p","x":175,"y":5},{"s":"p","x":190,"y":4},{"s":"p","x":210,"y":3},{"s":"p","x":260,"y":3},{"s":"p","x":290,"y":10.5},{"s":"p","x":300,"y":5},{"s":"p","x":600,"y":5},{"s":"p","x":1300,"y":2.3},{"s":"p","x":60,"y":15},{"s":"p","x":72,"y":12},{"s":"p","x":78,"y":8},{"s":"p","x":95,"y":7},{"s":"p","x":115,"y":10},{"s":"p","x":125,"y":13},{"s":"p","x":90,"y":20},{"s":"p","x":55,"y":30},{"s":"p","x":65,"y":4},{"s":"p","x":85,"y":4},{"s":"p","x":105,"y":4},{"s":"p","x":125,"y":4},{"s":"p","x":160,"y":4},{"s":"p","x":70,"y":5},{"s":"p","x":90,"y":5},{"s":"p","x":110,"y":6},{"s":"p","x":140,"y":5},
{"s":"p","x":60,"y":3},{"s":"p","x":75,"y":3},{"s":"p","x":85,"y":3},{"s":"p","x":100,"y":3},{"s":"p","x":115,"y":3},{"s":"p","x":130,"y":3},{"s":"p","x":150,"y":3},{"s":"p","x":175,"y":3},{"s":"p","x":200,"y":3},
{"s":"p","x":70,"y":2},{"s":"p","x":80,"y":2},{"s":"p","x":90,"y":2},{"s":"p","x":100,"y":2},{"s":"p","x":110,"y":2},{"s":"p","x":120,"y":2},{"s":"p","x":135,"y":2},{"s":"p","x":150,"y":2},{"s":"p","x":170,"y":2},{"s":"p","x":190,"y":2},{"s":"p","x":220,"y":2},{"s":"p","x":250,"y":2},{"s":"p","x":280,"y":2},{"s":"p","x":320,"y":2},
{"s":"p","x":100,"y":1},{"s":"p","x":110,"y":1},{"s":"p","x":120,"y":1},{"s":"p","x":130,"y":1},{"s":"p","x":140,"y":1},{"s":"p","x":150,"y":1},{"s":"p","x":165,"y":1},{"s":"p","x":180,"y":1},{"s":"p","x":200,"y":1},{"s":"p","x":220,"y":1},{"s":"p","x":240,"y":1},{"s":"p","x":260,"y":1},{"s":"p","x":290,"y":1},{"s":"p","x":320,"y":1},{"s":"p","x":350,"y":1},{"s":"p","x":390,"y":1},{"s":"p","x":430,"y":1},{"s":"p","x":470,"y":1},{"s":"p","x":520,"y":1},{"s":"p","x":570,"y":1},{"s":"p","x":630,"y":1},{"s":"p","x":700,"y":1},{"s":"p","x":780,"y":1},{"s":"p","x":860,"y":1},{"s":"p","x":950,"y":1},{"s":"p","x":1050,"y":1},
{"s":"o","x":19,"y":33000},{"s":"o","x":850,"y":52},
{"s":"d","x":29,"y":1500},{"s":"d","x":109,"y":43}
],
"B2": [
{"s":"q","x":1,"y":23000},{"s":"q","x":2,"y":19000},{"s":"q","x":3,"y":17000},{"s":"q","x":4,"y":15500},{"s":"q","x":5,"y":14500},{"s":"q","x":6,"y":13300},{"s":"q","x":7,"y":12300},{"s":"q","x":8,"y":11500},{"s":"q","x":9,"y":10700},{"s":"q","x":10,"y":9900},{"s":"q","x":11,"y":9100},{"s":"q","x":12,"y":8400},{"s":"q","x":13,"y":7700},{"s":"q","x":14,"y":7000},{"s":"q","x":15,"y":6400},{"s":"q","x":16,"y":5800},{"s":"q","x":17,"y":5300},{"s":"q","x":18,"y":4900},{"s":"q","x":20,"y":4100},{"s":"q","x":22,"y":3500},{"s":"q","x":24,"y":3050},{"s":"q","x":26,"y":2700},{"s":"q","x":28,"y":2350},{"s":"q","x":30,"y":2100},{"s":"q","x":33,"y":1750},{"s":"q","x":36,"y":1500},{"s":"q","x":39,"y":1300},{"s":"q","x":43,"y":1100},{"s":"q","x":47,"y":920},{"s":"q","x":52,"y":780},{"s":"q","x":58,"y":630},{"s":"q","x":64,"y":520},{"s":"q","x":70,"y":440},{"s":"q","x":78,"y":370},{"s":"q","x":87,"y":300},{"s":"q","x":96,"y":250},{"s":"q","x":106,"y":210},{"s":"q","x":118,"y":175},{"s":"q","x":130,"y":145},{"s":"q","x":145,"y":120},{"s":"q","x":160,"y":100},{"s":"q","x":177,"y":84},{"s":"q","x":195,"y":69},{"s":"q","x":215,"y":56},{"s":"q","x":240,"y":45},{"s":"q","x":265,"y":39},{"s":"q","x":295,"y":33},{"s":"q","x":330,"y":26},{"s":"q","x":360,"y":20},{"s":"q","x":390,"y":16},{"s":"q","x":420,"y":12},{"s":"q","x":440,"y":9.1},{"s":"q","x":470,"y":8},{"s":"q","x":510,"y":7.5},{"s":"q","x":580,"y":6.9},{"s":"q","x":640,"y":5.5},{"s":"q","x":450,"y":4.8},{"s":"q","x":520,"y":4.8},{"s":"q","x":600,"y":4.8},{"s":"q","x":700,"y":4.8},{"s":"q","x":760,"y":4.8},{"s":"q","x":820,"y":4.8},{"s":"q","x":880,"y":4.8},{"s":"q","x":940,"y":4.8},{"s":"q","x":1000,"y":4.8},{"s":"q","x":1070,"y":4.8},{"s":"q","x":1150,"y":3.6},{"s":"q","x":1250,"y":3.2},{"s":"q","x":1250,"y":1.1},
{"s":"q","x":19,"y":4500},{"s":"q","x":21,"y":3800},{"s":"q","x":23,"y":3250},{"s":"q","x":25,"y":2850},{"s":"q","x":27,"y":2500},{"s":"q","x":29,"y":2200},{"s":"q","x":32,"y":1850},{"s":"q","x":35,"y":1600},{"s":"q","x":37,"y":1420},{"s":"q","x":41,"y":1200},{"s":"q","x":45,"y":1000},{"s":"q","x":50,"y":840},{"s":"q","x":55,"y":700},{"s":"q","x":61,"y":570},{"s":"q","x":67,"y":480},{"s":"q","x":74,"y":400},{"s":"q","x":82,"y":335},{"s":"q","x":91,"y":275},{"s":"q","x":101,"y":230},{"s":"q","x":112,"y":190},{"s":"q","x":124,"y":160},{"s":"q","x":137,"y":135},{"s":"q","x":152,"y":110},{"s":"q","x":168,"y":92},{"s":"q","x":186,"y":76},{"s":"q","x":205,"y":62},{"s":"q","x":227,"y":50},{"s":"q","x":252,"y":42},{"s":"q","x":280,"y":36},{"s":"q","x":312,"y":29},{"s":"q","x":345,"y":23},{"s":"q","x":375,"y":18},{"s":"q","x":405,"y":14},{"s":"q","x":430,"y":10.5},{"s":"q","x":455,"y":8.5},{"s":"q","x":490,"y":7.8},{"s":"q","x":540,"y":7.2},{"s":"q","x":610,"y":6.2},{"s":"q","x":670,"y":5.2},{"s":"q","x":560,"y":4.8},{"s":"q","x":660,"y":4.8},{"s":"q","x":730,"y":4.8},{"s":"q","x":790,"y":4.8},{"s":"q","x":850,"y":4.8},{"s":"q","x":910,"y":4.8},{"s":"q","x":970,"y":4.8},{"s":"q","x":1035,"y":4.8},{"s":"q","x":1100,"y":4.2},
{"s":"p","x":1,"y":2240},{"s":"p","x":2,"y":1520},{"s":"p","x":3,"y":1310},{"s":"p","x":4,"y":1100},{"s":"p","x":5,"y":960},{"s":"p","x":6,"y":880},{"s":"p","x":7,"y":800},{"s":"p","x":8,"y":730},{"s":"p","x":9,"y":660},{"s":"p","x":10,"y":620},{"s":"p","x":11,"y":575},{"s":"p","x":12,"y":550},{"s":"p","x":13,"y":520},{"s":"p","x":14,"y":490},{"s":"p","x":15,"y":470},{"s":"p","x":16,"y":430},{"s":"p","x":17,"y":400},{"s":"p","x":18,"y":365},{"s":"p","x":19,"y":330},{"s":"p","x":20,"y":300},{"s":"p","x":21,"y":280},{"s":"p","x":22,"y":250},{"s":"p","x":23,"y":230},{"s":"p","x":24,"y":210},{"s":"p","x":25,"y":195},{"s":"p","x":27,"y":170},{"s":"p","x":28,"y":158},{"s":"p","x":30,"y":130},{"s":"p","x":32,"y":110},{"s":"p","x":34,"y":100},{"s":"p","x":36,"y":85},{"s":"p","x":39,"y":69},{"s":"p","x":41,"y":60},{"s":"p","x":44,"y":48},{"s":"p","x":47,"y":40},{"s":"p","x":51,"y":33},{"s":"p","x":54,"y":25},{"s":"p","x":58,"y":19},{"s":"p","x":62,"y":15},{"s":"p","x":66,"y":11},{"s":"p","x":70,"y":13},{"s":"p","x":72,"y":9},{"s":"p","x":76,"y":7.6},{"s":"p","x":80,"y":10},{"s":"p","x":85,"y":6},{"s":"p","x":90,"y":8},{"s":"p","x":100,"y":7.6},{"s":"p","x":115,"y":4.8},{"s":"p","x":60,"y":28},{"s":"p","x":65,"y":20},{"s":"p","x":90,"y":5},
{"s":"p","x":70,"y":4},{"s":"p","x":80,"y":5},{"s":"p","x":95,"y":4},{"s":"p","x":110,"y":5},{"s":"p","x":130,"y":4},{"s":"p","x":160,"y":4},{"s":"p","x":200,"y":5},
{"s":"p","x":87,"y":3},{"s":"p","x":100,"y":3},{"s":"p","x":115,"y":3},{"s":"p","x":130,"y":3},{"s":"p","x":150,"y":3},{"s":"p","x":175,"y":3},{"s":"p","x":200,"y":3},{"s":"p","x":240,"y":3},{"s":"p","x":290,"y":3},{"s":"p","x":340,"y":3},
{"s":"p","x":66,"y":2},{"s":"p","x":75,"y":2},{"s":"p","x":85,"y":2},{"s":"p","x":95,"y":2},{"s":"p","x":105,"y":2},{"s":"p","x":120,"y":2},{"s":"p","x":135,"y":2},{"s":"p","x":155,"y":2},{"s":"p","x":175,"y":2},{"s":"p","x":195,"y":2},{"s":"p","x":470,"y":2},
{"s":"p","x":66,"y":1},{"s":"p","x":72,"y":1},{"s":"p","x":80,"y":1},{"s":"p","x":88,"y":1},{"s":"p","x":96,"y":1},{"s":"p","x":105,"y":1},{"s":"p","x":115,"y":1},{"s":"p","x":126,"y":1},{"s":"p","x":138,"y":1},{"s":"p","x":150,"y":1},{"s":"p","x":165,"y":1},{"s":"p","x":180,"y":1},{"s":"p","x":200,"y":1},{"s":"p","x":220,"y":1},{"s":"p","x":240,"y":1},{"s":"p","x":265,"y":1},{"s":"p","x":290,"y":1},{"s":"p","x":320,"y":1},{"s":"p","x":350,"y":1},{"s":"p","x":390,"y":1},{"s":"p","x":620,"y":1},{"s":"p","x":1150,"y":1},
{"s":"o","x":19.7,"y":12000},{"s":"o","x":510,"y":19},
{"s":"d","x":43,"y":380},{"s":"d","x":87,"y":13}
],
"B3": [
{"s":"q","x":1,"y":17000},{"s":"q","x":2,"y":14800},{"s":"q","x":3,"y":13300},{"s":"q","x":4,"y":12200},{"s":"q","x":5,"y":11200},{"s":"q","x":6,"y":10500},{"s":"q","x":7,"y":10000},{"s":"q","x":8,"y":9300},{"s":"q","x":9,"y":8600},{"s":"q","x":10,"y":7800},{"s":"q","x":11,"y":7100},{"s":"q","x":12,"y":6500},{"s":"q","x":13,"y":6000},{"s":"q","x":14,"y":5500},{"s":"q","x":15,"y":5000},{"s":"q","x":16,"y":4600},{"s":"q","x":17,"y":4300},{"s":"q","x":18,"y":4050},{"s":"q","x":20,"y":3500},{"s":"q","x":22,"y":3000},{"s":"q","x":24,"y":2650},{"s":"q","x":26,"y":2350},{"s":"q","x":28,"y":2100},{"s":"q","x":30,"y":1850},{"s":"q","x":33,"y":1600},{"s":"q","x":36,"y":1380},{"s":"q","x":40,"y":1150},{"s":"q","x":44,"y":980},{"s":"q","x":48,"y":830},{"s":"q","x":53,"y":700},{"s":"q","x":58,"y":620},{"s":"q","x":64,"y":560},{"s":"q","x":70,"y":480},{"s":"q","x":77,"y":420},{"s":"q","x":85,"y":370},{"s":"q","x":93,"y":330},{"s":"q","x":101,"y":283},{"s":"q","x":112,"y":250},{"s":"q","x":125,"y":220},{"s":"q","x":137,"y":190},{"s":"q","x":147,"y":163},{"s":"q","x":160,"y":135},{"s":"q","x":175,"y":110},{"s":"q","x":190,"y":87},{"s":"q","x":205,"y":68},{"s":"q","x":220,"y":55},{"s":"q","x":245,"y":42},{"s":"q","x":270,"y":30},{"s":"q","x":295,"y":20},{"s":"q","x":320,"y":16},{"s":"q","x":345,"y":13},{"s":"q","x":370,"y":12},{"s":"q","x":400,"y":10},{"s":"q","x":410,"y":9.5},{"s":"q","x":420,"y":7.4},{"s":"q","x":425,"y":6.5},{"s":"q","x":430,"y":5.6},{"s":"q","x":460,"y":5},{"s":"q","x":490,"y":4.7},{"s":"q","x":500,"y":4},{"s":"q","x":520,"y":3.2},{"s":"q","x":540,"y":2.5},{"s":"q","x":560,"y":2},{"s":"q","x":590,"y":1.04},{"s":"q","x":620,"y":1.04},{"s":"q","x":650,"y":1.04},{"s":"q","x":680,"y":1.04},
{"s":"q","x":19,"y":3750},{"s":"q","x":21,"y":3250},{"s":"q","x":23,"y":2800},{"s":"q","x":25,"y":2500},{"s":"q","x":27,"y":2220},{"s":"q","x":29,"y":1970},{"s":"q","x":31,"y":1750},{"s":"q","x":32,"y":1680},{"s":"q","x":34,"y":1500},{"s":"q","x":35,"y":1440},{"s":"q","x":38,"y":1260},{"s":"q","x":42,"y":1060},{"s":"q","x":46,"y":900},{"s":"q","x":50,"y":760},{"s":"q","x":56,"y":660},{"s":"q","x":61,"y":590},{"s":"q","x":67,"y":510},{"s":"q","x":73,"y":450},{"s":"q","x":81,"y":390},{"s":"q","x":89,"y":350},{"s":"q","x":97,"y":305},{"s":"q","x":106,"y":265},{"s":"q","x":118,"y":235},{"s":"q","x":131,"y":205},{"s":"q","x":142,"y":175},{"s":"q","x":153,"y":150},{"s":"q","x":167,"y":122},{"s":"q","x":182,"y":98},{"s":"q","x":197,"y":77},{"s":"q","x":212,"y":62},{"s":"q","x":232,"y":48},{"s":"q","x":257,"y":36},{"s":"q","x":282,"y":25},{"s":"q","x":307,"y":18},{"s":"q","x":332,"y":14.5},{"s":"q","x":357,"y":12.5},{"s":"q","x":385,"y":11},{"s":"q","x":440,"y":5.3},{"s":"q","x":475,"y":4.8},{"s":"q","x":510,"y":3.6},{"s":"q","x":530,"y":2.8},{"s":"q","x":550,"y":2.2},{"s":"q","x":570,"y":1.04},{"s":"q","x":600,"y":1.04},{"s":"q","x":635,"y":1.04},{"s":"q","x":665,"y":1.04},
{"s":"p","x":1,"y":1930},{"s":"p","x":2,"y":1360},{"s":"p","x":3,"y":1160},{"s":"p","x":4,"y":960},{"s":"p","x":5,"y":800},{"s":"p","x":6,"y":720},{"s":"p","x":7,"y":660},{"s":"p","x":8,"y":610},{"s":"p","x":9,"y":560},{"s":"p","x":10,"y":500},{"s":"p","x":11,"y":470},{"s":"p","x":12,"y":430},{"s":"p","x":13,"y":390},{"s":"p","x":14,"y":350},{"s":"p","x":15,"y":320},{"s":"p","x":16,"y":290},{"s":"p","x":17,"y":270},{"s":"p","x":18,"y":250},{"s":"p","x":19,"y":230},{"s":"p","x":20,"y":210},{"s":"p","x":22,"y":180},{"s":"p","x":24,"y":170},{"s":"p","x":25,"y":163},{"s":"p","x":27,"y":140},{"s":"p","x":28,"y":125},{"s":"p","x":30,"y":110},{"s":"p","x":32,"y":95},{"s":"p","x":34,"y":85},{"s":"p","x":36,"y":72},{"s":"p","x":38,"y":60},{"s":"p","x":40,"y":55},{"s":"p","x":42,"y":50},{"s":"p","x":45,"y":40},{"s":"p","x":47,"y":35},{"s":"p","x":50,"y":30},{"s":"p","x":54,"y":24},{"s":"p","x":57,"y":20},{"s":"p","x":61,"y":17},{"s":"p","x":65,"y":14},{"s":"p","x":69,"y":11.4},{"s":"p","x":44,"y":60},{"s":"p","x":48,"y":45},{"s":"p","x":52,"y":28},{"s":"p","x":55,"y":18},{"s":"p","x":60,"y":12},{"s":"p","x":63,"y":22},{"s":"p","x":70,"y":9},{"s":"p","x":75,"y":15},{"s":"p","x":80,"y":8},{"s":"p","x":85,"y":12},{"s":"p","x":90,"y":6},{"s":"p","x":95,"y":10},{"s":"p","x":100,"y":7},{"s":"p","x":110,"y":5},{"s":"p","x":120,"y":8},{"s":"p","x":130,"y":6},{"s":"p","x":140,"y":4},{"s":"p","x":160,"y":5},{"s":"p","x":180,"y":3},{"s":"p","x":200,"y":6},{"s":"p","x":220,"y":4},{"s":"p","x":250,"y":5},{"s":"p","x":300,"y":3.5},{"s":"p","x":150,"y":3},
{"s":"p","x":62,"y":3},{"s":"p","x":70,"y":3},{"s":"p","x":80,"y":3},{"s":"p","x":90,"y":3},{"s":"p","x":100,"y":3},{"s":"p","x":115,"y":3},{"s":"p","x":130,"y":3},{"s":"p","x":175,"y":3},{"s":"p","x":200,"y":3},{"s":"p","x":240,"y":3},
{"s":"p","x":62,"y":2},{"s":"p","x":70,"y":2},{"s":"p","x":78,"y":2},{"s":"p","x":88,"y":2},{"s":"p","x":100,"y":2},{"s":"p","x":112,"y":2},{"s":"p","x":125,"y":2},{"s":"p","x":140,"y":2},{"s":"p","x":160,"y":2},{"s":"p","x":180,"y":2},{"s":"p","x":205,"y":2},{"s":"p","x":240,"y":2},{"s":"p","x":280,"y":2},{"s":"p","x":330,"y":2},{"s":"p","x":360,"y":2},
{"s":"p","x":69,"y":1},{"s":"p","x":76,"y":1},{"s":"p","x":84,"y":1},{"s":"p","x":92,"y":1},{"s":"p","x":100,"y":1},{"s":"p","x":110,"y":1},{"s":"p","x":120,"y":1},{"s":"p","x":132,"y":1},{"s":"p","x":145,"y":1},{"s":"p","x":160,"y":1},{"s":"p","x":175,"y":1},{"s":"p","x":195,"y":1},{"s":"p","x":215,"y":1},{"s":"p","x":240,"y":1},{"s":"p","x":265,"y":1},{"s":"p","x":300,"y":1},{"s":"p","x":340,"y":1},{"s":"p","x":400,"y":1},
{"s":"p","x":65,"y":5},{"s":"p","x":75,"y":4},{"s":"p","x":85,"y":6},{"s":"p","x":100,"y":4},{"s":"p","x":115,"y":5},{"s":"p","x":135,"y":4},{"s":"p","x":170,"y":5},{"s":"p","x":210,"y":6},{"s":"p","x":270,"y":4},{"s":"p","x":300,"y":6},
{"s":"o","x":25,"y":8700},{"s":"o","x":370,"y":62},
{"s":"d","x":29,"y":450},{"s":"d","x":89,"y":20}
],
"B4": [
{"s":"q","x":1,"y":16700},{"s":"q","x":2,"y":14400},{"s":"q","x":3,"y":13000},{"s":"q","x":4,"y":11800},{"s":"q","x":5,"y":11000},{"s":"q","x":6,"y":10300},{"s":"q","x":7,"y":9600},{"s":"q","x":8,"y":9000},{"s":"q","x":9,"y":8300},{"s":"q","x":10,"y":7600},{"s":"q","x":11,"y":7000},{"s":"q","x":12,"y":6200},{"s":"q","x":13,"y":5500},{"s":"q","x":14,"y":5000},{"s":"q","x":15,"y":4500},{"s":"q","x":16,"y":4100},{"s":"q","x":17,"y":3800},{"s":"q","x":18,"y":3500},{"s":"q","x":20,"y":3000},{"s":"q","x":22,"y":2650},{"s":"q","x":24,"y":2350},{"s":"q","x":27,"y":2000},{"s":"q","x":30,"y":1700},{"s":"q","x":33,"y":1450},{"s":"q","x":36,"y":1250},{"s":"q","x":40,"y":1050},{"s":"q","x":44,"y":900},{"s":"q","x":49,"y":760},{"s":"q","x":54,"y":650},{"s":"q","x":60,"y":560},{"s":"q","x":67,"y":470},{"s":"q","x":74,"y":420},{"s":"q","x":81,"y":375},{"s":"q","x":90,"y":320},{"s":"q","x":100,"y":280},{"s":"q","x":110,"y":250},{"s":"q","x":120,"y":215},{"s":"q","x":135,"y":185},{"s":"q","x":157,"y":163},{"s":"q","x":180,"y":130},{"s":"q","x":205,"y":104},{"s":"q","x":235,"y":80},{"s":"q","x":268,"y":60},{"s":"q","x":305,"y":46},{"s":"q","x":350,"y":35},{"s":"q","x":390,"y":29},{"s":"q","x":425,"y":24},{"s":"q","x":460,"y":20},{"s":"q","x":490,"y":16.6},{"s":"q","x":520,"y":12.6},{"s":"q","x":540,"y":10},{"s":"q","x":530,"y":8.7},{"s":"q","x":545,"y":7.5},{"s":"q","x":560,"y":6.7},{"s":"q","x":560,"y":5.5},{"s":"q","x":560,"y":4.7},{"s":"q","x":600,"y":4.2},{"s":"q","x":680,"y":4.2},{"s":"q","x":750,"y":4.2},{"s":"q","x":820,"y":4.2},{"s":"q","x":890,"y":4.2},{"s":"q","x":960,"y":4.2},{"s":"q","x":1030,"y":4.2},{"s":"q","x":1100,"y":4.2},{"s":"q","x":1100,"y":2.05},{"s":"q","x":1100,"y":1.05},
{"s":"q","x":19,"y":3250},{"s":"q","x":21,"y":2800},{"s":"q","x":23,"y":2500},{"s":"q","x":25,"y":2200},{"s":"q","x":26,"y":2100},{"s":"q","x":28,"y":1900},{"s":"q","x":29,"y":1800},{"s":"q","x":31,"y":1600},{"s":"q","x":32,"y":1520},{"s":"q","x":34,"y":1380},{"s":"q","x":35,"y":1300},{"s":"q","x":38,"y":1150},{"s":"q","x":42,"y":970},{"s":"q","x":46,"y":830},{"s":"q","x":51,"y":700},{"s":"q","x":57,"y":600},{"s":"q","x":63,"y":510},{"s":"q","x":70,"y":445},{"s":"q","x":77,"y":400},{"s":"q","x":85,"y":345},{"s":"q","x":95,"y":300},{"s":"q","x":105,"y":265},{"s":"q","x":115,"y":230},{"s":"q","x":127,"y":200},{"s":"q","x":145,"y":175},{"s":"q","x":168,"y":145},{"s":"q","x":192,"y":115},{"s":"q","x":220,"y":92},{"s":"q","x":250,"y":70},{"s":"q","x":285,"y":53},{"s":"q","x":325,"y":41},{"s":"q","x":370,"y":32},{"s":"q","x":405,"y":27},{"s":"q","x":445,"y":22},{"s":"q","x":470,"y":18.5},{"s":"q","x":505,"y":14.5},{"s":"q","x":640,"y":4.2},{"s":"q","x":715,"y":4.2},{"s":"q","x":785,"y":4.2},{"s":"q","x":855,"y":4.2},{"s":"q","x":925,"y":4.2},{"s":"q","x":995,"y":4.2},{"s":"q","x":1065,"y":4.2},
{"s":"p","x":1,"y":2100},{"s":"p","x":2,"y":1550},{"s":"p","x":3,"y":1250},{"s":"p","x":4,"y":1050},{"s":"p","x":5,"y":880},{"s":"p","x":6,"y":780},{"s":"p","x":7,"y":700},{"s":"p","x":8,"y":620},{"s":"p","x":9,"y":560},{"s":"p","x":10,"y":510},{"s":"p","x":11,"y":460},{"s":"p","x":12,"y":410},{"s":"p","x":13,"y":370},{"s":"p","x":14,"y":340},{"s":"p","x":15,"y":310},{"s":"p","x":16,"y":280},{"s":"p","x":17,"y":260},{"s":"p","x":18,"y":235},{"s":"p","x":19,"y":210},{"s":"p","x":20,"y":190},{"s":"p","x":21,"y":162},{"s":"p","x":23,"y":145},{"s":"p","x":24,"y":135},{"s":"p","x":26,"y":120},{"s":"p","x":28,"y":104},{"s":"p","x":30,"y":88},{"s":"p","x":32,"y":72},{"s":"p","x":34,"y":62},{"s":"p","x":36,"y":50},{"s":"p","x":38,"y":45},{"s":"p","x":41,"y":38},{"s":"p","x":44,"y":32},{"s":"p","x":47,"y":26},{"s":"p","x":50,"y":23},{"s":"p","x":54,"y":20},{"s":"p","x":58,"y":17},{"s":"p","x":62,"y":13.8},{"s":"p","x":66,"y":12},{"s":"p","x":71,"y":10.5},{"s":"p","x":40,"y":65},{"s":"p","x":45,"y":42},{"s":"p","x":52,"y":30},{"s":"p","x":60,"y":22},{"s":"p","x":75,"y":15},{"s":"p","x":80,"y":8},{"s":"p","x":85,"y":12},{"s":"p","x":90,"y":6},{"s":"p","x":95,"y":9},{"s":"p","x":105,"y":5},{"s":"p","x":115,"y":7},{"s":"p","x":130,"y":4},{"s":"p","x":150,"y":6},{"s":"p","x":175,"y":4},{"s":"p","x":268,"y":10.5},{"s":"p","x":200,"y":3},{"s":"p","x":250,"y":4},{"s":"p","x":400,"y":4},{"s":"p","x":420,"y":3},
{"s":"p","x":55,"y":3},{"s":"p","x":65,"y":3},{"s":"p","x":75,"y":3},{"s":"p","x":88,"y":3},{"s":"p","x":100,"y":3},{"s":"p","x":120,"y":3},{"s":"p","x":140,"y":3},{"s":"p","x":170,"y":3},{"s":"p","x":210,"y":3},
{"s":"p","x":50,"y":2},{"s":"p","x":58,"y":2},{"s":"p","x":68,"y":2},{"s":"p","x":80,"y":2},{"s":"p","x":92,"y":2},{"s":"p","x":105,"y":2},{"s":"p","x":120,"y":2},{"s":"p","x":140,"y":2},{"s":"p","x":165,"y":2},{"s":"p","x":190,"y":2},{"s":"p","x":230,"y":2},{"s":"p","x":280,"y":2},{"s":"p","x":340,"y":2},{"s":"p","x":400,"y":2},
{"s":"p","x":62,"y":1},{"s":"p","x":70,"y":1},{"s":"p","x":80,"y":1},{"s":"p","x":90,"y":1},{"s":"p","x":100,"y":1},{"s":"p","x":112,"y":1},{"s":"p","x":125,"y":1},{"s":"p","x":140,"y":1},{"s":"p","x":160,"y":1},{"s":"p","x":180,"y":1},{"s":"p","x":200,"y":1},{"s":"p","x":225,"y":1},{"s":"p","x":250,"y":1},{"s":"p","x":290,"y":1},{"s":"p","x":330,"y":1},{"s":"p","x":390,"y":1},{"s":"p","x":440,"y":1},{"s":"p","x":490,"y":1},{"s":"p","x":540,"y":1},{"s":"p","x":600,"y":1},
{"s":"o","x":13.4,"y":10400},{"s":"o","x":560,"y":42},
{"s":"d","x":17.5,"y":540},{"s":"d","x":44.6,"y":46}
],
"B5": [
{"s":"q","x":1,"y":10300},{"s":"q","x":2,"y":10000},{"s":"q","x":3,"y":8700},{"s":"q","x":4,"y":7700},{"s":"q","x":5,"y":7100},{"s":"q","x":6,"y":6500},{"s":"q","x":7,"y":6000},{"s":"q","x":8,"y":5600},{"s":"q","x":9,"y":5200},{"s":"q","x":10,"y":4800},{"s":"q","x":11,"y":4400},{"s":"q","x":12,"y":4100},{"s":"q","x":13,"y":3700},{"s":"q","x":14,"y":3300},{"s":"q","x":15,"y":3000},{"s":"q","x":16,"y":2750},{"s":"q","x":17,"y":2500},{"s":"q","x":18,"y":2250},{"s":"q","x":19,"y":2000},{"s":"q","x":20,"y":1850},{"s":"q","x":21,"y":1700},{"s":"q","x":22,"y":1550},{"s":"q","x":24,"y":1300},{"s":"q","x":25,"y":1170},{"s":"q","x":27,"y":1000},{"s":"q","x":29,"y":820},{"s":"q","x":31,"y":720},{"s":"q","x":33,"y":640},{"s":"q","x":36,"y":500},{"s":"q","x":39,"y":400},{"s":"q","x":42,"y":325},{"s":"q","x":46,"y":270},{"s":"q","x":50,"y":230},{"s":"q","x":55,"y":192},{"s":"q","x":60,"y":160},{"s":"q","x":65,"y":135},{"s":"q","x":71,"y":114},{"s":"q","x":77,"y":95},{"s":"q","x":84,"y":82},{"s":"q","x":92,"y":69},{"s":"q","x":100,"y":58},{"s":"q","x":110,"y":48},{"s":"q","x":120,"y":41},{"s":"q","x":135,"y":36},{"s":"q","x":155,"y":32},{"s":"q","x":175,"y":28},{"s":"q","x":200,"y":24.5},{"s":"q","x":220,"y":21},{"s":"q","x":245,"y":15.9},{"s":"q","x":255,"y":13},{"s":"q","x":268,"y":10.2},{"s":"q","x":280,"y":8},{"s":"q","x":290,"y":6.7},{"s":"q","x":290,"y":5.5},{"s":"q","x":300,"y":4.4},{"s":"q","x":315,"y":3.1},{"s":"q","x":300,"y":2.5},{"s":"q","x":360,"y":2.1},{"s":"q","x":330,"y":1},{"s":"q","x":360,"y":1},{"s":"q","x":390,"y":1},{"s":"q","x":420,"y":1},{"s":"q","x":450,"y":1},{"s":"q","x":480,"y":1},{"s":"q","x":510,"y":1},
{"s":"q","x":23,"y":1420},{"s":"q","x":26,"y":1080},{"s":"q","x":28,"y":900},{"s":"q","x":30,"y":770},{"s":"q","x":32,"y":680},{"s":"q","x":34,"y":570},{"s":"q","x":35,"y":530},{"s":"q","x":37,"y":460},{"s":"q","x":38,"y":430},{"s":"q","x":40,"y":370},{"s":"q","x":41,"y":345},{"s":"q","x":44,"y":295},{"s":"q","x":48,"y":250},{"s":"q","x":52,"y":210},{"s":"q","x":57,"y":175},{"s":"q","x":62,"y":148},{"s":"q","x":68,"y":125},{"s":"q","x":74,"y":104},{"s":"q","x":80,"y":88},{"s":"q","x":88,"y":75},{"s":"q","x":96,"y":63},{"s":"q","x":105,"y":52},{"s":"q","x":115,"y":44},{"s":"q","x":127,"y":38},{"s":"q","x":145,"y":34},{"s":"q","x":165,"y":30},{"s":"q","x":187,"y":26},{"s":"q","x":210,"y":23},{"s":"q","x":232,"y":18},{"s":"q","x":260,"y":12},{"s":"q","x":275,"y":9},{"s":"q","x":285,"y":7.3},{"s":"q","x":295,"y":5},{"s":"q","x":305,"y":3.8},{"s":"q","x":320,"y":2.6},{"s":"q","x":345,"y":1},{"s":"q","x":375,"y":1},{"s":"q","x":405,"y":1},{"s":"q","x":435,"y":1},{"s":"q","x":465,"y":1},{"s":"q","x":495,"y":1},
{"s":"p","x":1,"y":1020},{"s":"p","x":2,"y":830},{"s":"p","x":3,"y":740},{"s":"p","x":4,"y":660},{"s":"p","x":5,"y":590},{"s":"p","x":6,"y":560},{"s":"p","x":7,"y":520},{"s":"p","x":8,"y":480},{"s":"p","x":9,"y":450},{"s":"p","x":10,"y":415},{"s":"p","x":11,"y":380},{"s":"p","x":12,"y":330},{"s":"p","x":13,"y":300},{"s":"p","x":14,"y":280},{"s":"p","x":15,"y":250},{"s":"p","x":16,"y":210},{"s":"p","x":17,"y":195},{"s":"p","x":18,"y":177},{"s":"p","x":19,"y":160},{"s":"p","x":20,"y":150},{"s":"p","x":22,"y":141},{"s":"p","x":23,"y":120},{"s":"p","x":24,"y":105},{"s":"p","x":25,"y":97},{"s":"p","x":27,"y":85},{"s":"p","x":29,"y":75},{"s":"p","x":31,"y":65},{"s":"p","x":33,"y":57},{"s":"p","x":35,"y":50},{"s":"p","x":37,"y":41},{"s":"p","x":40,"y":33},{"s":"p","x":42,"y":27},{"s":"p","x":44,"y":20},{"s":"p","x":45,"y":17.4},{"s":"p","x":47,"y":15},{"s":"p","x":48,"y":13.5},{"s":"p","x":50,"y":12},{"s":"p","x":52,"y":11},{"s":"p","x":55,"y":10.2},{"s":"p","x":58,"y":9},{"s":"p","x":60,"y":8},{"s":"p","x":63,"y":7.4},{"s":"p","x":67,"y":6},{"s":"p","x":71,"y":5.2},{"s":"p","x":76,"y":4.5},{"s":"p","x":81,"y":4.4},{"s":"p","x":90,"y":5},{"s":"p","x":105,"y":4},{"s":"p","x":120,"y":5},{"s":"p","x":135,"y":4},{"s":"p","x":40,"y":15},{"s":"p","x":42,"y":16},{"s":"p","x":38,"y":17},{"s":"p","x":45,"y":10},{"s":"p","x":55,"y":7},{"s":"p","x":60,"y":12},{"s":"p","x":65,"y":5},{"s":"p","x":70,"y":8},
{"s":"p","x":70,"y":3},{"s":"p","x":90,"y":3},
{"s":"p","x":70,"y":2},{"s":"p","x":78,"y":2},{"s":"p","x":86,"y":2},{"s":"p","x":95,"y":2},{"s":"p","x":105,"y":2},{"s":"p","x":115,"y":2},{"s":"p","x":128,"y":2},{"s":"p","x":140,"y":2},{"s":"p","x":155,"y":2},{"s":"p","x":175,"y":2},{"s":"p","x":300,"y":2},
{"s":"p","x":80,"y":1},{"s":"p","x":88,"y":1},{"s":"p","x":96,"y":1},{"s":"p","x":105,"y":1},{"s":"p","x":115,"y":1},{"s":"p","x":126,"y":1},{"s":"p","x":138,"y":1},{"s":"p","x":150,"y":1},{"s":"p","x":165,"y":1},{"s":"p","x":180,"y":1},{"s":"p","x":200,"y":1},{"s":"p","x":220,"y":1},{"s":"p","x":245,"y":1},{"s":"p","x":270,"y":1},{"s":"p","x":300,"y":1},{"s":"p","x":330,"y":1},
{"s":"o","x":19,"y":6700},{"s":"o","x":245,"y":37},
{"s":"d","x":21.8,"y":540},{"s":"d","x":59,"y":35}
]
}
}
